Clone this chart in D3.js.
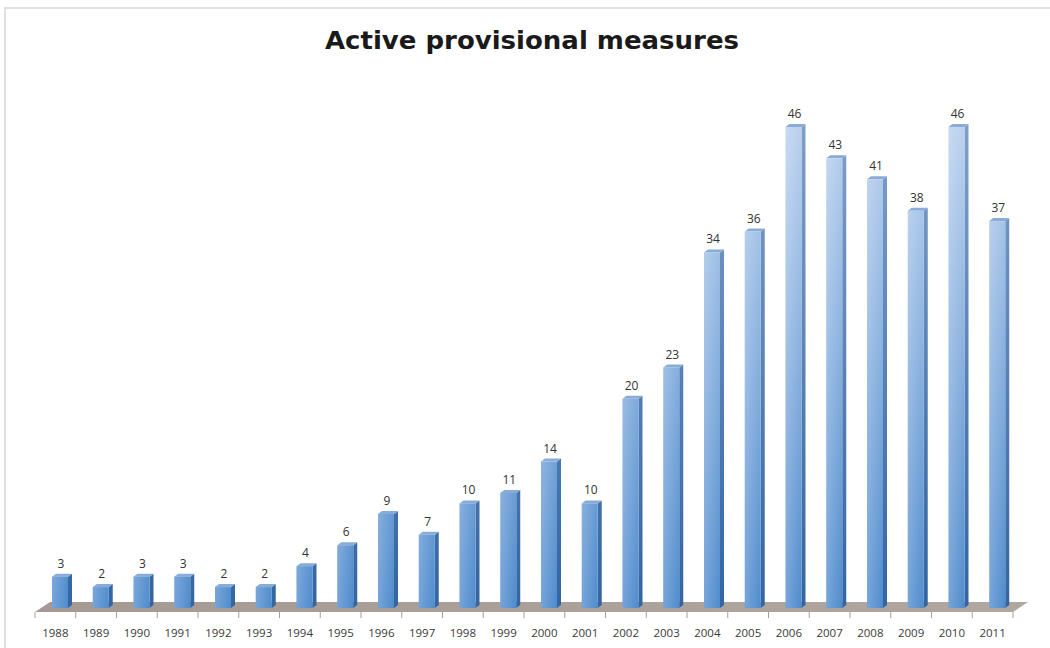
<!DOCTYPE html>
<html>
<head>
<meta charset="utf-8">
<script src="https://cdn.jsdelivr.net/npm/d3@7"></script>
<style>
  body { margin: 0; background: #fff; }
  svg { display: block; }
</style>
</head>
<body>
<svg id="chart"></svg>
<script>
const width = 1050;
const height = 648;

// data
const years = ['1988', '1989', '1990', '1991', '1992', '1993', '1994', '1995', '1996', '1997', '1998', '1999',
  '2000', '2001', '2002', '2003', '2004', '2005', '2006', '2007', '2008', '2009', '2010', '2011'];
const measures = [3, 2, 3, 3, 2, 2, 4, 6, 9, 7, 10, 11, 14, 10, 20, 23, 34, 36, 46, 43, 41, 38, 46, 37];
const title = 'Active provisional measures';

// 3d look
const depthX = 15, depthY = 10;   // floor depth
const barDx = 4, barDy = 3;       // bar side depth
const barOffset = 17, barW = 16;  // front face inside band

const svg = d3.select('#chart').attr('width', width).attr('height', height);

const x = d3.scaleBand().domain(years).range([35, 1013]);
const y = d3.scaleLinear().domain([0, 46]).range([608, 127]);

const defs = svg.append('defs');
const gFront = defs.append('linearGradient').attr('id', 'front')
  .attr('gradientUnits', 'userSpaceOnUse').attr('x1', 0).attr('x2', 0).attr('y1', 127).attr('y2', 608);
gFront.append('stop').attr('offset', 0).attr('stop-color', '#b9d0ee');
gFront.append('stop').attr('offset', 1).attr('stop-color', '#4f8bcd');
// light sheen on the left of each front face
const gSheen = defs.append('linearGradient').attr('id', 'sheen')
  .attr('x1', 0).attr('x2', 1).attr('y1', 0).attr('y2', 0);
gSheen.append('stop').attr('offset', 0).attr('stop-color', '#fff').attr('stop-opacity', 0.22);
gSheen.append('stop').attr('offset', 1).attr('stop-color', '#fff').attr('stop-opacity', 0);
const gSide = defs.append('linearGradient').attr('id', 'side')
  .attr('gradientUnits', 'userSpaceOnUse').attr('x1', 0).attr('x2', 0).attr('y1', 127).attr('y2', 608);
gSide.append('stop').attr('offset', 0).attr('stop-color', '#7f9fc9');
gSide.append('stop').attr('offset', 1).attr('stop-color', '#3265a2');
const gFloor = defs.append('linearGradient').attr('id', 'floor')
  .attr('x1', 0).attr('x2', 1).attr('y1', 0).attr('y2', 0);
gFloor.append('stop').attr('offset', 0).attr('stop-color', '#a59a93');
gFloor.append('stop').attr('offset', 1).attr('stop-color', '#b0a7a1');

// outer frame
svg.append('path')
  .attr('d', `M5,${height} L5,8 L${width},8`)
  .attr('fill', 'none').attr('stroke', '#e0e0e0').attr('stroke-width', 2);

svg.append('text')
  .attr('x', 532).attr('y', 49)
  .attr('text-anchor', 'middle')
  .attr('font-family', 'DejaVu Sans')
  .attr('font-weight', 'bold')
  .attr('font-size', 25)
  .attr('fill', '#1a1a1a')
  .attr('textLength', 414)
  .attr('lengthAdjust', 'spacingAndGlyphs')
  .text(title);

// floor
const x0 = x.range()[0], x1 = x.range()[1], base = 612;
svg.append('path')
  .attr('d', `M${x0},${base} L${x0 + depthX},${base - depthY} L${x1 + depthX},${base - depthY} L${x1},${base} Z`)
  .attr('fill', 'url(#floor)');

// ticks under floor
const tickPos = years.map(d => x(d)).concat([x1]);
svg.append('g').selectAll('line').data(tickPos).join('line')
  .attr('x1', d => d).attr('x2', d => d)
  .attr('y1', base).attr('y2', base + 6)
  .attr('stroke', '#a0a0a0').attr('stroke-width', 1);

const rows = years.map((yr, i) => ({ yr, v: measures[i] }));
const bars = svg.append('g').selectAll('g').data(rows).join('g');

// side face
bars.append('path')
  .attr('d', d => {
    const l = x(d.yr) + barOffset + barW, t = y(d.v), b = y(0);
    return `M${l},${t} L${l + barDx},${t - barDy} L${l + barDx},${b - barDy} L${l},${b} Z`;
  })
  .attr('fill', 'url(#side)');

// top face
bars.append('path')
  .attr('d', d => {
    const l = x(d.yr) + barOffset, t = y(d.v);
    return `M${l},${t} L${l + barDx},${t - barDy} L${l + barW + barDx},${t - barDy} L${l + barW},${t} Z`;
  })
  .attr('fill', '#88abd8');

// front face
bars.append('rect')
  .attr('x', d => x(d.yr) + barOffset)
  .attr('y', d => y(d.v))
  .attr('width', barW)
  .attr('height', d => y(0) - y(d.v))
  .attr('fill', 'url(#front)');
bars.append('rect')
  .attr('x', d => x(d.yr) + barOffset)
  .attr('y', d => y(d.v))
  .attr('width', barW)
  .attr('height', d => y(0) - y(d.v))
  .attr('fill', 'url(#sheen)');

// value labels
bars.append('text')
  .attr('x', d => x(d.yr) + barOffset + barW / 2 + 1)
  .attr('y', d => y(d.v) - 9)
  .attr('text-anchor', 'middle')
  .attr('font-family', 'Open Sans')
  .attr('font-size', 12)
  .attr('fill', '#333')
  .text(d => d.v);

// year labels
svg.append('g').selectAll('text').data(years).join('text')
  .attr('x', d => x(d) + x.bandwidth() / 2)
  .attr('y', 637)
  .attr('text-anchor', 'middle')
  .attr('font-family', 'Open Sans')
  .attr('font-size', 11.5)
  .attr('fill', '#3a3a3a')
  .text(d => d);
</script>
</body>
</html>
